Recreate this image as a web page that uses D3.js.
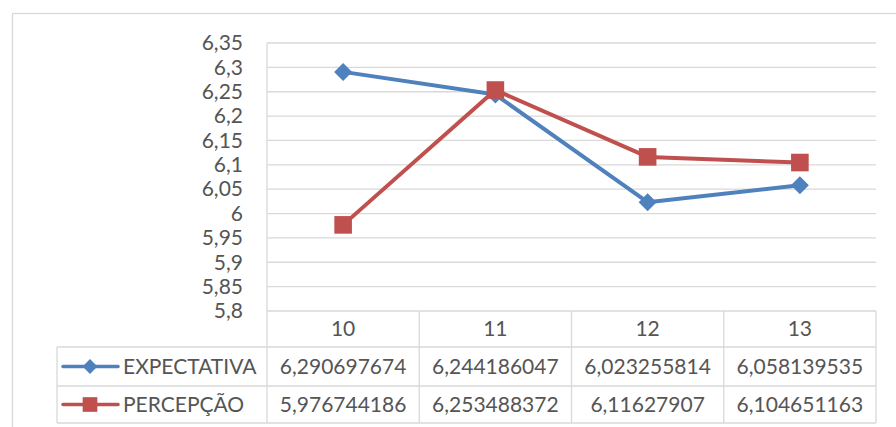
<!DOCTYPE html>
<html lang="pt">
<head>
    <meta charset="UTF-8">
    <title>Expectativa x Percepção</title>
    <script src="https://d3js.org/d3.v7.min.js"></script>
    <style>
        body { margin: 0; background: #fff; }
        text { font-family: Lato, "Open Sans", sans-serif; fill: #555; }
    </style>
</head>
<body>
<script>
    const width  = 896;
    const height = 427;

    const categories  = ["10", "11", "12", "13"];
    const expectativa = [6.290697674, 6.244186047, 6.023255814, 6.058139535];
    const percepcao   = [5.976744186, 6.253488372, 6.11627907, 6.104651163];
    const yTicks      = [5.8, 5.85, 5.9, 5.95, 6, 6.05, 6.1, 6.15, 6.2, 6.25, 6.3, 6.35];

    const series = [
        {name: "EXPECTATIVA", values: expectativa, color: "#4F81BD", shape: "diamond"},
        {name: "PERCEPÇÃO",   values: percepcao,   color: "#C0504D", shape: "square"}
    ];

    const plot  = {left: 267, right: 876, top: 43, bottom: 311};
    const table = {left: 57, rowH: [36, 39, 37]};
    const grid  = "#D9D9D9";
    const fs    = 21;
    const comma = v => String(v).replace(".", ",");

    const x = d3.scaleBand().domain(categories).range([plot.left, plot.right]);
    const y = d3.scaleLinear().domain([5.8, 6.35]).range([plot.bottom, plot.top]);

    const svg = d3.select("body").append("svg").attr("width", width).attr("height", height);

    // chart border
    svg.append("rect")
        .attr("x", 12.5).attr("y", 13.5)
        .attr("width", 900).attr("height", 430)
        .attr("fill", "none").attr("stroke", grid).attr("stroke-width", 1.3);

    // gridlines
    svg.append("g").selectAll("line")
        .data(yTicks).enter().append("line")
        .attr("x1", plot.left).attr("x2", plot.right)
        .attr("y1", d => y(d)).attr("y2", d => y(d))
        .attr("stroke", grid).attr("stroke-width", 1.3);

    // y axis labels
    const yAxis = d3.axisLeft(y).tickValues(yTicks).tickFormat(comma).tickSize(0).tickPadding(24);
    const ya = svg.append("g").attr("transform", "translate(" + [plot.left, 0] + ")").call(yAxis);
    ya.select(".domain").remove();
    ya.selectAll("text").attr("font-size", fs).attr("font-family", null).attr("fill", null);

    // data table lines
    const r1 = plot.bottom + table.rowH[0];
    const r2 = r1 + table.rowH[1];
    const r3 = r2 + table.rowH[2];
    const tl = svg.append("g").attr("stroke", grid).attr("stroke-width", 1.3);
    tl.append("line").attr("x1", plot.left).attr("x2", plot.left).attr("y1", plot.top).attr("y2", r3);
    x.domain().forEach(c => {
        const xr = x(c) + x.bandwidth();
        tl.append("line").attr("x1", xr).attr("x2", xr).attr("y1", plot.bottom).attr("y2", r3);
    });
    tl.append("line").attr("x1", table.left).attr("x2", table.left).attr("y1", r1).attr("y2", r3);
    [r1, r2, r3].forEach(ry => {
        tl.append("line").attr("x1", table.left).attr("x2", plot.right).attr("y1", ry).attr("y2", ry);
    });

    // header (categories)
    svg.append("g").selectAll("text")
        .data(categories).enter().append("text")
        .attr("x", d => x(d) + x.bandwidth() / 2)
        .attr("y", plot.bottom + table.rowH[0] / 2)
        .attr("dy", "0.35em").attr("text-anchor", "middle").attr("font-size", fs)
        .text(d => d);

    const symbolFor = (shape, big) => shape === "diamond"
        ? d3.symbol().type(d3.symbolSquare).size(big ? 162 : 110)
        : d3.symbol().type(d3.symbolSquare).size(big ? 310 : 215);

    const line = d3.line()
        .x((d, i) => x(categories[i]) + x.bandwidth() / 2)
        .y(d => y(d));

    series.forEach((s, si) => {
        const g = svg.append("g");
        g.append("path")
            .datum(s.values)
            .attr("d", line)
            .attr("fill", "none").attr("stroke", s.color)
            .attr("stroke-width", 4).attr("stroke-linejoin", "round");
        g.selectAll(".mk").data(s.values).enter().append("path")
            .attr("d", symbolFor(s.shape, true))
            .attr("fill", s.color)
            .attr("transform", (d, i) => "translate(" + [x(categories[i]) + x.bandwidth() / 2, y(d)] + ")" +
                (s.shape === "diamond" ? " rotate(45)" : ""));

        // table row
        const ry = (si === 0 ? r1 : r2);
        const cy = ry + table.rowH[si + 1] / 2;
        g.append("line")
            .attr("x1", 63).attr("x2", 118).attr("y1", cy).attr("y2", cy)
            .attr("stroke", s.color).attr("stroke-width", 3.5).attr("stroke-linecap", "round");
        g.append("path")
            .attr("d", symbolFor(s.shape, false))
            .attr("fill", s.color)
            .attr("transform", "translate(" + [90, cy] + ")" + (s.shape === "diamond" ? " rotate(45)" : ""));
        g.append("text")
            .attr("x", 123).attr("y", cy).attr("dy", "0.35em").attr("font-size", fs)
            .text(s.name);
        g.selectAll(".val").data(s.values).enter().append("text")
            .attr("x", (d, i) => x(categories[i]) + x.bandwidth() / 2)
            .attr("y", cy).attr("dy", "0.35em").attr("text-anchor", "middle").attr("font-size", fs)
            .text(d => comma(d));
    });
</script>
</body>
</html>
